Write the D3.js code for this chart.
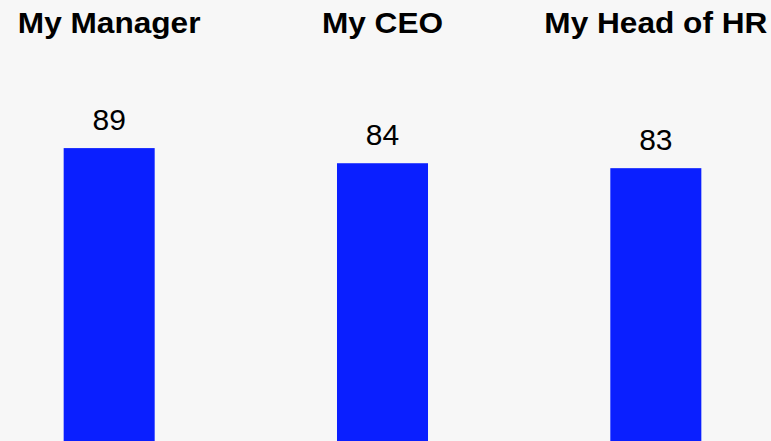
<!DOCTYPE html>
<html>
<head>
<meta charset="utf-8">
<script src="https://cdn.jsdelivr.net/npm/d3@7"></script>
<style>
  html, body { margin: 0; padding: 0; background: #f7f7f7; }
  svg { display: block; font-family: "Liberation Sans", Arial, sans-serif; }
</style>
</head>
<body>
<svg id="chart" width="771" height="441"></svg>
<script>
const categories = ["My Manager", "My CEO", "My Head of HR"];
const values = [89, 84.4, 82.9];

const svg = d3.select("#chart"),
    width = +svg.attr("width"),
    height = +svg.attr("height");

svg.append("rect")
    .attr("width", width)
    .attr("height", height)
    .attr("fill", "#f7f7f7");

const x = d3.scaleBand()
    .domain(categories)
    .range([9, 756])
    .paddingInner(0.667)
    .paddingOuter(0.2);

const y = d3.scaleLinear()
    .domain([0, 134])
    .range([height, 0]);

const data = categories.map((c, i) => ({ name: c, value: values[i] }));

// titles on top (the original font runs a bit wider than Arial bold)
svg.append("g")
  .selectAll("text")
  .data(data)
  .join("text")
    .attr("transform", d => "translate(" + (x(d.name) + x.bandwidth() / 2) + ",33) scale(1.09,1)")
    .attr("text-anchor", "middle")
    .attr("font-size", 29)
    .attr("font-weight", "bold")
    .attr("fill", "#000")
    .text(d => d.name);

svg.append("g")
  .selectAll("rect")
  .data(data)
  .join("rect")
    .attr("x", d => x(d.name))
    .attr("y", d => y(d.value))
    .attr("width", x.bandwidth())
    .attr("height", d => height - y(d.value))
    .attr("fill", "#0a1fff");

svg.append("g")
  .selectAll("text")
  .data(data)
  .join("text")
    .attr("x", d => x(d.name) + x.bandwidth() / 2)
    .attr("y", d => y(d.value) - 18)
    .attr("text-anchor", "middle")
    .attr("font-size", 30)
    .attr("fill", "#000")
    .text(d => d3.format(".0f")(d.value));
</script>
</body>
</html>
